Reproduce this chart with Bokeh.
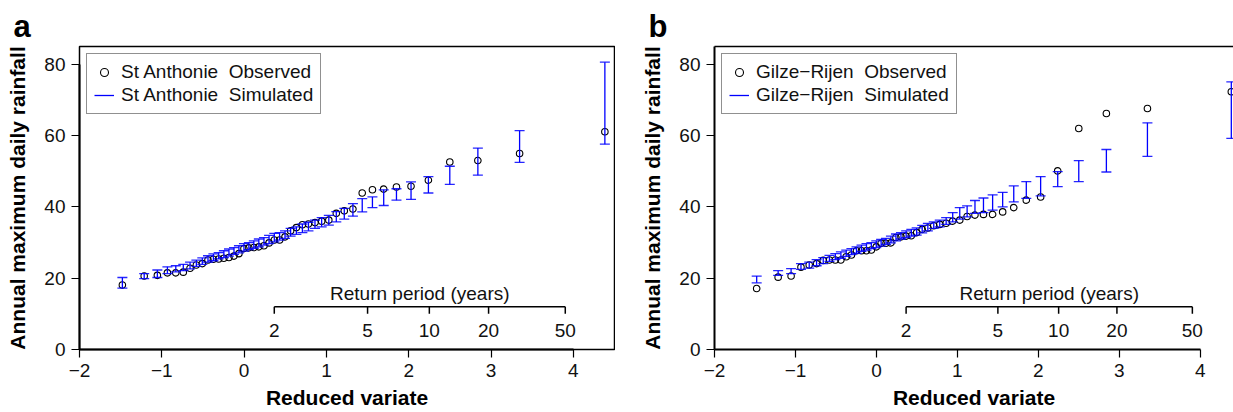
import math
from bokeh.plotting import figure
from bokeh.models import (FixedTicker, Legend, LegendItem, LinearAxis, Range1d)
from bokeh.layouts import row
from bokeh.embed import file_html
from bokeh.resources import INLINE
from bokeh.core.properties import value

# ---- data ----
# reduced variate (plotting positions of the 45 ranked annual maxima)
reduced_variate = [-1.479, -1.214, -1.054, -0.932, -0.830, -0.739, -0.657, -0.580, -0.508, -0.439,
                   -0.373, -0.309, -0.246, -0.184, -0.123, -0.063, -0.002, 0.058, 0.118, 0.179,
                   0.241, 0.303, 0.367, 0.431, 0.497, 0.565, 0.635, 0.708, 0.782, 0.861,
                   0.942, 1.029, 1.120, 1.217, 1.322, 1.435, 1.559, 1.696, 1.851, 2.028,
                   2.239, 2.499, 2.840, 3.347, 4.383]

# St Anthonie
a_observed = [18.1, 20.6, 20.8, 21.5, 21.5, 21.7, 22.8, 23.7, 24.1, 25.1,
              25.3, 25.4, 25.6, 25.8, 26.2, 26.9, 28.3, 28.5, 28.6, 28.8,
              29.1, 29.9, 30.7, 30.7, 31.6, 33.3, 34.2, 35.0, 35.2, 35.6,
              36.0, 36.3, 38.2, 38.9, 39.4, 43.9, 44.8, 45.0, 45.6, 45.8,
              47.5, 52.6, 53.0, 55.0, 61.1]
a_sim_low = [17.2, 19.9, 20.2, 21.3, 21.8, 22.1, 22.6, 23.3, 23.9, 24.5,
             24.9, 25.4, 25.8, 26.2, 26.7, 27.1, 27.6, 28.0, 28.4, 28.8,
             29.3, 29.7, 30.2, 30.7, 31.2, 31.8, 32.3, 32.8, 33.3, 34.0,
             34.4, 34.9, 35.8, 36.6, 37.4, 38.6, 39.8, 40.4, 41.9, 42.1,
             43.9, 46.3, 48.9, 52.5, 57.6]
a_sim_high = [20.2, 21.3, 22.3, 23.2, 23.5, 23.9, 24.5, 25.1, 25.7, 26.3,
              26.8, 27.2, 27.7, 28.2, 28.6, 29.1, 29.7, 30.0, 30.5, 31.0,
              31.4, 32.0, 32.6, 32.8, 33.3, 34.0, 34.4, 35.2, 35.7, 36.3,
              37.0, 37.6, 38.7, 39.6, 40.9, 42.3, 42.8, 44.8, 45.1, 47.0,
              48.5, 51.4, 56.5, 61.4, 80.6]

# Gilze-Rijen
b_observed = [17.1, 20.3, 20.6, 23.1, 23.7, 24.1, 25.0, 25.1, 25.1, 25.1,
              26.0, 26.5, 27.7, 27.7, 27.7, 27.9, 28.8, 29.8, 29.8, 29.9,
              31.4, 31.6, 31.8, 31.9, 32.8, 33.7, 34.1, 34.7, 35.1, 35.4,
              36.0, 36.3, 37.3, 37.7, 37.9, 37.9, 38.6, 39.8, 41.9, 42.8,
              50.1, 62.0, 66.2, 67.6, 72.3]
b_sim_low = [18.7, 20.8, 21.3, 22.5, 22.8, 23.5, 24.1, 24.7, 25.2, 25.6,
             26.1, 26.6, 27.0, 27.5, 27.9, 28.3, 28.6, 29.0, 29.5, 29.9,
             30.5, 31.0, 31.4, 31.8, 32.1, 32.7, 33.3, 34.0, 34.4, 35.1,
             35.8, 36.6, 37.2, 38.2, 38.4, 39.1, 40.0, 41.4, 42.4, 43.1,
             45.7, 47.1, 49.8, 54.2, 59.2]
b_sim_high = [20.6, 22.1, 22.7, 24.1, 24.5, 25.2, 25.8, 26.4, 26.9, 27.4,
              27.9, 28.3, 28.8, 29.3, 29.7, 30.0, 30.5, 30.9, 31.2, 31.8,
              32.4, 32.8, 33.3, 33.7, 34.1, 34.8, 35.4, 35.8, 36.3, 37.0,
              38.4, 39.8, 40.3, 41.8, 42.5, 43.4, 44.1, 45.9, 47.1, 48.5,
              49.9, 53.0, 56.1, 63.6, 75.1]

x_ticks = [-2, -1, 0, 1, 2, 3, 4]
y_ticks = [0, 20, 40, 60, 80]
return_periods = [2, 5, 10, 20, 50]

FONT = "Liberation Sans"
BLUE = "#0000FF"
TXT = "#111111"
FS = "19px"


def make_panel(letter, station, obs, low, high, fig_width, left_border, right_border, x_end, boxed):
    p = figure(width=fig_width, height=412, x_range=Range1d(-2, x_end), y_range=Range1d(0, 85),
               output_backend="svg", toolbar_location=None,
               min_border_left=left_border, min_border_right=right_border,
               min_border_top=46, min_border_bottom=63)
    p.grid.visible = False
    p.background_fill_color = "white"
    p.border_fill_color = "white"
    p.outline_line_color = "black" if boxed else None
    p.outline_line_width = 1.5

    # panel letter as title
    p.title.text = letter
    p.title.text_font = FONT
    p.title.text_font_size = "31px"
    p.title.text_font_style = "bold"
    p.title.text_color = "black"
    p.title.align = "left"
    p.title.offset = -66
    p.title.standoff = 6

    xax = p.below[0]
    yax = p.left[0]
    xax.ticker = FixedTicker(ticks=x_ticks)
    yax.ticker = FixedTicker(ticks=y_ticks)
    xax.bounds = (-2, 4)
    if boxed:
        yax.bounds = (0, 80)
    xax.major_label_overrides = {-2: "\u22122", -1: "\u22121"}
    for ax in (xax, yax):
        ax.axis_line_width = 2
        ax.axis_line_color = "black"
        ax.major_tick_out = 8
        ax.major_tick_in = 0
        ax.major_tick_line_width = 1.2
        ax.minor_tick_line_color = None
        ax.major_label_text_font = FONT
        ax.major_label_text_font_size = FS
        ax.major_label_text_color = TXT
        ax.axis_label_text_font = FONT
        ax.axis_label_text_font_style = "bold"
        ax.axis_label_text_font_size = "21px"
        ax.axis_label_text_color = "black"
    xax.axis_label = "Reduced variate"
    yax.axis_label = "Annual maximum daily rainfall"
    xax.major_label_standoff = 6
    xax.axis_label_standoff = 6
    yax.major_label_standoff = 6
    yax.axis_label_standoff = 12
    yax.major_label_orientation = "horizontal"

    circ = p.scatter(reduced_variate, obs, marker="circle", size=6.5, fill_color=None,
                     line_color="black", line_width=1.1)
    stems = p.segment(x0=reduced_variate, y0=low, x1=reduced_variate, y1=high,
                      line_color=BLUE, line_width=1.3)
    p.scatter(reduced_variate + reduced_variate, low + high, marker="dash", size=10,
              line_color=BLUE, line_width=1.3, line_alpha=0.85)

    # return period scale
    rp_x = [-math.log(-math.log(1.0 - 1.0 / t)) for t in return_periods]
    p.segment(x0=[rp_x[0]], y0=[12], x1=[rp_x[-1]], y1=[12], line_color="black", line_width=1.5)
    p.segment(x0=rp_x, y0=[12] * len(rp_x), x1=rp_x, y1=[10] * len(rp_x),
              line_color="black", line_width=1.5)
    p.text(x=rp_x, y=[5.4] * len(rp_x), text=[str(t) for t in return_periods],
           text_font=value(FONT), text_font_size=FS, text_align="center",
           text_baseline="middle", text_color=TXT)
    p.text(x=[(rp_x[0] + rp_x[-1]) / 2], y=[15.8], text=["Return period (years)"],
           text_font=value(FONT), text_font_size=FS, text_align="center",
           text_baseline="middle", text_color=TXT)

    legend = Legend(items=[LegendItem(label=station + " \u00a0Observed", renderers=[circ]),
                           LegendItem(label=station + " \u00a0Simulated", renderers=[stems])],
                    location="top_left")
    legend.margin = 7
    legend.padding = 7
    legend.spacing = 1
    legend.glyph_width = 20
    legend.glyph_height = 20
    legend.label_standoff = 7
    legend.label_height = 20
    legend.label_text_font = FONT
    legend.label_text_font_size = FS
    legend.label_text_color = TXT
    legend.border_line_color = "#222222"
    legend.border_line_width = 1.5
    legend.background_fill_color = "white"
    legend.background_fill_alpha = 1.0
    p.add_layout(legend, "center")

    if not boxed:
        top = LinearAxis(ticker=FixedTicker(ticks=[]), major_label_text_font_size="0px",
                         axis_line_width=1.5, axis_line_color="black",
                         major_tick_out=0, major_tick_in=0, major_label_standoff=0,
                         major_tick_line_color=None, minor_tick_line_color=None)
        p.add_layout(top, "above")
    return p


pa = make_panel("a", "St Anthonie", a_observed, a_sim_low, a_sim_high, 615, 79, 1, 4.5, True)
pb = make_panel("b", "Gilze\u2212Rijen", b_observed, b_sim_low, b_sim_high, 618, 99, 0, 4.41, False)

layout = row(pa, pb, spacing=0)
open("out.html", "w").write(file_html(layout, INLINE))
